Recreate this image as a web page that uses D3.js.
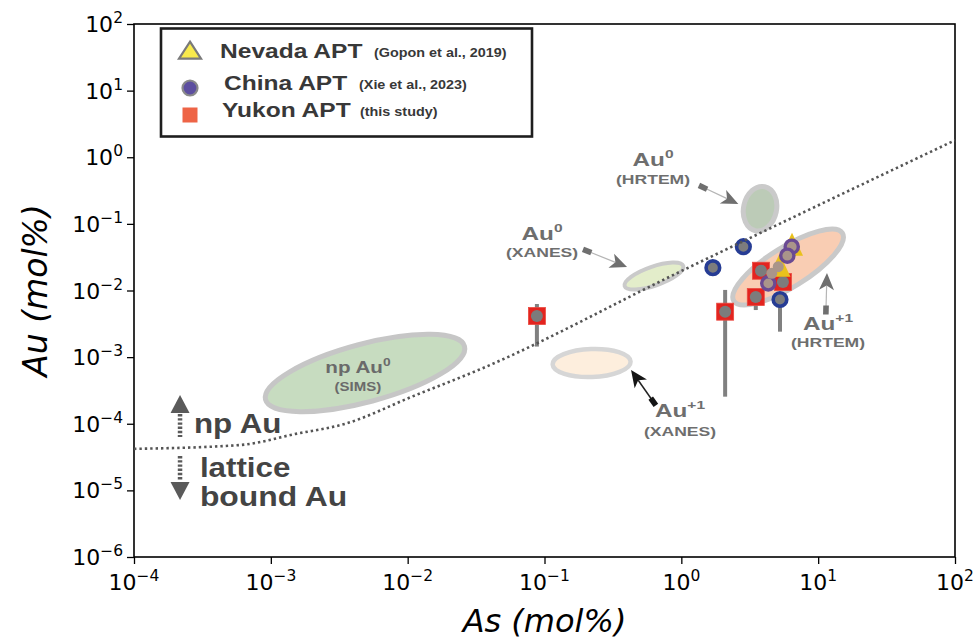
<!DOCTYPE html>
<html>
<head>
<meta charset="utf-8">
<script src="https://cdn.jsdelivr.net/npm/d3@7"></script>
<style>
  html, body { margin: 0; padding: 0; background: #fff; }
  svg { display: block; }
</style>
</head>
<body>
<svg id="chart" width="976" height="642"></svg>
<script>
// Au vs As (mol%) in pyrite: atom-probe analyses and Au speciation fields

// ---- Yukon APT (this study) ----
const yukonAs   = [0.088, 2.09, 3.82, 3.50, 5.53];
const yukonAu   = [0.00414, 0.00481, 0.0198, 0.00799, 0.0134];
const yukonAuLo = [0.00144, 0.000255, null, 0.00509, null];
const yukonAuHi = [0.00627, 0.0102, null, null, null];

// ---- China APT (Xie et al., 2023), blue-rimmed analyses ----
const chinaAs   = [1.70, 2.84, 5.26];
const chinaAu   = [0.0220, 0.0454, 0.00733];
const chinaAuLo = [null, null, 0.00241];

// ---- China APT, purple-rimmed analyses ----
const chinaPurpleAs = [6.41, 5.95, 4.32];
const chinaPurpleAu = [0.0454, 0.0333, 0.0128];

// ---- Nevada APT (Gopon et al., 2019) ----
const nevadaAs     = [6.44, 5.22];
const nevadaAu     = [0.0434, 0.0210];
const nevadaCoreAs = [5.11, 4.58];
const nevadaCoreAu = [0.0228, 0.0181];

// ---- Au solubility limit (np Au above, lattice-bound Au below) ----
const limitAs = [1e-4, 6e-4, 1.5e-3, 3.5e-3, 0.011, 0.034, 0.97, 100];
const limitAu = [4.2e-5, 4.8e-5, 7.0e-5, 1.0e-4, 2.6e-4, 6.6e-4, 0.019, 1.8];

// ---- Au speciation fields (centres) ----
const fieldNames = ["simsNp", "xanes0", "xanes1", "hrtem0", "hrtem1"];
const fieldAs    = [0.00488, 0.631, 0.221, 3.76, 6.03];
const fieldAu    = [0.000578, 0.0165, 0.000817, 0.169, 0.0225];

// ---- axis ticks ----
const xTickValues = [1e-4, 1e-3, 1e-2, 1e-1, 1e0, 1e1, 1e2];
const xTickExps   = ["\u22124", "\u22123", "\u22122", "\u22121", "0", "1", "2"];
const yTickValues = [1e-6, 1e-5, 1e-4, 1e-3, 1e-2, 1e-1, 1e0, 1e1, 1e2];
const yTickExps   = ["\u22126", "\u22125", "\u22124", "\u22123", "\u22122", "\u22121", "0", "1", "2"];

// ---- legend entries ----
const legendNames = ["Nevada APT", "China APT", "Yukon APT"];
const legendRefs  = ["(Gopon et al., 2019)", "(Xie et al., 2023)", "(this study)"];

// ---------------------------------------------------------------------
const svg = d3.select("#chart");
const plot = { left: 134, right: 955, top: 24, bottom: 557 };

const x = d3.scaleLog().domain([1e-4, 1e2]).range([plot.left, plot.right]);
const y = d3.scaleLog().domain([1e-6, 1e2]).range([plot.bottom, plot.top]);

const BOLD = "'Liberation Sans', Arial, Helvetica, sans-serif";
const MPL  = "'DejaVu Sans', sans-serif";

// bold, horizontally stretched label with optional superscript
function stretchLabel(parent, px, py, parts, opt) {
  const g = parent.append("g")
    .attr("transform", `translate(${px},${py}) scale(${opt.sx},1)`);
  const t = g.append("text")
    .attr("text-anchor", opt.anchor || "middle")
    .attr("font-family", BOLD)
    .attr("font-weight", "bold")
    .attr("font-size", opt.size)
    .attr("fill", opt.color);
  let raised = 0;
  parts.forEach(p => {
    const ts = t.append("tspan").text(p.t);
    if (p.sup) {
      const rise = opt.size * 0.42;
      ts.attr("font-size", opt.supSize || opt.size * 0.62).attr("dy", -rise - raised);
      raised = rise;
    } else if (raised) {
      ts.attr("dy", raised);
      raised = 0;
    }
  });
  return g;
}

// ---------------- speciation fields ----------------
const fieldStyle = {
  simsNp: { rx: 103, ry: 29,  rot: -15, fill: "#c7dcc0", stroke: "#c6c6c6", sw: 5 },
  xanes0: { rx: 31,  ry: 9.5, rot: -19, fill: "#e3edca", stroke: "#cacaca", sw: 4 },
  xanes1: { rx: 39,  ry: 14,  rot: -2,  fill: "#fdeedd", stroke: "#d6d6d6", sw: 4.5 },
  hrtem0: { rx: 16.5,ry: 22.5,rot: 12,  fill: "#bccbb7", stroke: "#cacaca", sw: 5 },
  hrtem1: { rx: 64,  ry: 20,  rot: -32, fill: "#f9cdb3", stroke: "#c9c9c9", sw: 5 }
};
const fields = fieldNames.map((n, i) => ({ name: n, as: fieldAs[i], au: fieldAu[i] }));

svg.append("g").selectAll("ellipse").data(fields).join("ellipse")
  .attr("transform", d => `translate(${x(d.as)},${y(d.au)}) rotate(${fieldStyle[d.name].rot})`)
  .attr("rx", d => fieldStyle[d.name].rx)
  .attr("ry", d => fieldStyle[d.name].ry)
  .attr("fill", d => fieldStyle[d.name].fill)
  .attr("stroke", d => fieldStyle[d.name].stroke)
  .attr("stroke-width", d => fieldStyle[d.name].sw);

// ---------------- axes ----------------
function minorValues(lo, hi) {
  const v = [];
  for (let k = lo; k < hi; k++) for (let m = 2; m <= 9; m++) v.push(m * Math.pow(10, k));
  return v;
}

const xAxisG = svg.append("g").attr("transform", `translate(0,${plot.bottom})`);
xAxisG.call(d3.axisBottom(x).tickValues(minorValues(-4, 2)).tickSize(4).tickSizeOuter(0).tickFormat(() => ""));
xAxisG.call(d3.axisBottom(x).tickValues(xTickValues).tickSize(7).tickSizeOuter(0).tickFormat(() => ""));
const yAxisG = svg.append("g").attr("transform", `translate(${plot.left},0)`);
yAxisG.call(d3.axisLeft(y).tickValues(minorValues(-6, 2)).tickSize(4).tickSizeOuter(0).tickFormat(() => ""));
yAxisG.call(d3.axisLeft(y).tickValues(yTickValues).tickSize(7).tickSizeOuter(0).tickFormat(() => ""));
svg.selectAll(".domain").remove();
svg.selectAll(".tick line").attr("stroke", "#000").attr("stroke-width", 1.3);

// tick labels as 10^n
xTickValues.forEach((v, i) => {
  const t = svg.append("text")
    .attr("x", x(v)).attr("y", plot.bottom + 33)
    .attr("text-anchor", "middle")
    .attr("font-family", MPL).attr("font-size", 22).attr("fill", "#000");
  t.append("tspan").text("10");
  t.append("tspan").attr("dy", -9).attr("font-size", 15.5).text(xTickExps[i]);
});
yTickValues.forEach((v, i) => {
  const t = svg.append("text")
    .attr("x", plot.left - 11).attr("y", y(v) + 8)
    .attr("text-anchor", "end")
    .attr("font-family", MPL).attr("font-size", 22).attr("fill", "#000");
  t.append("tspan").text("10");
  t.append("tspan").attr("dy", -9).attr("font-size", 15.5).text(yTickExps[i]);
});

// frame
svg.append("rect")
  .attr("x", plot.left).attr("y", plot.top)
  .attr("width", plot.right - plot.left).attr("height", plot.bottom - plot.top)
  .attr("fill", "none").attr("stroke", "#000").attr("stroke-width", 1.6);

// axis titles
svg.append("text")
  .attr("x", (plot.left + plot.right) / 2).attr("y", 632)
  .attr("text-anchor", "middle")
  .attr("font-family", MPL).attr("font-style", "italic").attr("font-size", 32)
  .text("As (mol%)");
svg.append("text")
  .attr("transform", `translate(47,${(plot.top + plot.bottom) / 2}) rotate(-90)`)
  .attr("text-anchor", "middle")
  .attr("font-family", MPL).attr("font-style", "italic").attr("font-size", 33)
  .text("Au (mol%)");

// ---------------- error bars ----------------
const errG = svg.append("g").attr("stroke", "#808080").attr("stroke-width", 4);
yukonAs.forEach((a, i) => {
  if (yukonAuLo[i] === null && yukonAuHi[i] === null) return;
  errG.append("line")
    .attr("x1", x(a)).attr("x2", x(a))
    .attr("y1", y(yukonAuHi[i] !== null ? yukonAuHi[i] : yukonAu[i]))
    .attr("y2", y(yukonAuLo[i] !== null ? yukonAuLo[i] : yukonAu[i]));
});
chinaAs.forEach((a, i) => {
  if (chinaAuLo[i] === null) return;
  errG.append("line")
    .attr("x1", x(a)).attr("x2", x(a))
    .attr("y1", y(chinaAu[i])).attr("y2", y(chinaAuLo[i]));
});

// ---------------- data markers ----------------
const markG = svg.append("g");
const triPath = (cx, cy, w, h) =>
  `M${cx},${cy - h * 2 / 3}L${cx + w / 2},${cy + h / 3}L${cx - w / 2},${cy + h / 3}Z`;

// Yukon squares with grey core
yukonAs.forEach((a, i) => {
  const cx = x(a), cy = y(yukonAu[i]);
  markG.append("rect").attr("x", cx - 8.5).attr("y", cy - 8.5).attr("width", 17).attr("height", 17)
    .attr("fill", "#e3241f").attr("stroke", "#ea4a40").attr("stroke-width", 0.8);
  markG.append("circle").attr("cx", cx).attr("cy", cy).attr("r", 6).attr("fill", "#7c7c7c");
});

// China, blue rims
chinaAs.forEach((a, i) => {
  markG.append("circle").attr("cx", x(a)).attr("cy", y(chinaAu[i])).attr("r", 6.8)
    .attr("fill", "#7d7d7d").attr("stroke", "#263c94").attr("stroke-width", 3.6);
});

// Nevada triangles
nevadaAs.forEach((a, i) => {
  markG.append("path").attr("d", triPath(x(a), y(nevadaAu[i]), 22, 23)).attr("fill", "#e9c11c");
});

// China, purple rims
chinaPurpleAs.forEach((a, i) => {
  markG.append("circle").attr("cx", x(a)).attr("cy", y(chinaPurpleAu[i])).attr("r", 6.6)
    .attr("fill", "#aa958a").attr("stroke", "#6a4a93").attr("stroke-width", 3.4);
});
// Nevada cores
nevadaCoreAs.forEach((a, i) => {
  markG.append("circle").attr("cx", x(a)).attr("cy", y(nevadaCoreAu[i])).attr("r", 5.5)
    .attr("fill", "#aa958a");
});

// ---------------- solubility limit ----------------
const limit = limitAs.map((a, i) => [a, limitAu[i]]);
svg.append("path")
  .datum(limit)
  .attr("d", d3.line().x(d => x(d[0])).y(d => y(d[1])).curve(d3.curveMonotoneX))
  .attr("fill", "none").attr("stroke", "#555").attr("stroke-width", 2.6)
  .attr("stroke-dasharray", "2.4 3");

// ---------------- annotation arrows ----------------
const annG = svg.append("g");
function arrow(tailAs, tailAu, tipAs, tipAu, color, lineColor, lw) {
  const x0 = x(tailAs), y0 = y(tailAu), x1 = x(tipAs), y1 = y(tipAu);
  const ang = Math.atan2(y1 - y0, x1 - x0);
  const deg = ang * 180 / Math.PI;
  const L = 17, Wd = 7.5, N = 4.5;
  annG.append("line")
    .attr("x1", x0).attr("y1", y0)
    .attr("x2", x1 - Math.cos(ang) * (L - N)).attr("y2", y1 - Math.sin(ang) * (L - N))
    .attr("stroke", lineColor).attr("stroke-width", lw);
  annG.append("rect")
    .attr("x", -4.5).attr("y", -2.8).attr("width", 9).attr("height", 5.6)
    .attr("transform", `translate(${x0},${y0}) rotate(${deg})`)
    .attr("fill", color);
  annG.append("path")
    .attr("d", `M0,0L${-L},${-Wd}L${-L + N},0L${-L},${Wd}Z`)
    .attr("transform", `translate(${x1},${y1}) rotate(${deg})`)
    .attr("fill", color);
}
arrow(1.44, 0.354, 2.61, 0.199, "#6f6f6f", "#b5b5b5", 1.2);      // Au0 HRTEM
arrow(0.205, 0.0392, 0.401, 0.0225, "#6f6f6f", "#b5b5b5", 1.2);  // Au0 XANES
arrow(0.624, 2.14e-4, 0.429, 6.41e-4, "#151515", "#222", 1.5);   // Au+1 XANES
arrow(11.4, 5.09e-3, 11.6, 0.0183, "#6f6f6f", "#b5b5b5", 1.2);   // Au+1 HRTEM

// ---------------- annotation labels ----------------
const GREY = "#6e6e6e";
function speciesLabel(as, au, sup, method, gap) {
  const px = x(as), py = y(au);
  stretchLabel(annG, px, py, [{ t: "Au" }, { t: sup, sup: true }],
    { size: 18, supSize: 11.5, sx: 1.35, color: GREY });
  stretchLabel(annG, px, py + gap, [{ t: method }],
    { size: 13, sx: 1.35, color: GREY });
}
speciesLabel(0.621, 0.746, "0", "(HRTEM)", 18.5);
speciesLabel(0.096, 0.0573, "0", "(XANES)", 17);
speciesLabel(0.978, 1.28e-4, "+1", "(XANES)", 19.5);
speciesLabel(11.8, 2.55e-3, "+1", "(HRTEM)", 17);

// np Au0 inside the SIMS field
stretchLabel(annG, x(4.33e-3), y(5.71e-4), [{ t: "np Au" }, { t: "0", sup: true }],
  { size: 16.5, supSize: 11, sx: 1.25, color: "#6a6a6a" });
stretchLabel(annG, x(4.33e-3), y(5.71e-4) + 17.5, [{ t: "(SIMS)" }],
  { size: 12, sx: 1.25, color: "#6a6a6a" });

// np Au / lattice bound Au with dotted arrows
const DARK = "#444";
stretchLabel(annG, x(2.74e-4), y(7.26e-5), [{ t: "np Au" }], { size: 27, sx: 1.16, anchor: "start", color: DARK });
stretchLabel(annG, x(3.03e-4), y(1.60e-5), [{ t: "lattice" }], { size: 27, sx: 1.16, anchor: "start", color: DARK });
stretchLabel(annG, x(3.03e-4), y(5.8e-6), [{ t: "bound Au" }], { size: 27, sx: 1.18, anchor: "start", color: DARK });

const arrowX = x(2.17e-4);
const upTip = y(2.7e-4), upEnd = y(6.3e-5);
const downStart = y(3.28e-5), downTip = y(7.18e-6);
const AR = "#5a5a5a";
annG.append("path").attr("d", `M${arrowX},${upTip}L${arrowX + 9.5},${upTip + 18}L${arrowX - 9.5},${upTip + 18}Z`).attr("fill", AR);
annG.append("line").attr("x1", arrowX).attr("x2", arrowX).attr("y1", upTip + 19).attr("y2", upEnd)
  .attr("stroke", AR).attr("stroke-width", 4.5).attr("stroke-dasharray", "2.4 1.8");
annG.append("line").attr("x1", arrowX).attr("x2", arrowX).attr("y1", downStart).attr("y2", downTip - 19)
  .attr("stroke", AR).attr("stroke-width", 4.5).attr("stroke-dasharray", "2.4 1.8");
annG.append("path").attr("d", `M${arrowX},${downTip}L${arrowX + 9.5},${downTip - 18}L${arrowX - 9.5},${downTip - 18}Z`).attr("fill", AR);

// ---------------- legend ----------------
const leg = svg.append("g");
leg.append("rect").attr("x", 161).attr("y", 28.5).attr("width", 371).attr("height", 108)
  .attr("fill", "#fff").attr("stroke", "#1e1e1e").attr("stroke-width", 2.6);
const rowY = [58, 90, 117];
const refX = [374, 359, 360];
const nameX = [220, 224, 222];
// markers
leg.append("path").attr("d", triPath(190, 53, 22, 17))
  .attr("fill", "#f8ea4c").attr("stroke", "#7a7a7a").attr("stroke-width", 2.2);
leg.append("circle").attr("cx", 190).attr("cy", 88).attr("r", 7.5)
  .attr("fill", "#5d4fa0").attr("stroke", "#8a8a8a").attr("stroke-width", 2.2);
leg.append("rect").attr("x", 182.5).attr("y", 107.5).attr("width", 15).attr("height", 15)
  .attr("fill", "#ee6446");
legendNames.forEach((n, i) => {
  stretchLabel(leg, nameX[i], rowY[i], [{ t: n }], { size: 21, sx: 1.17, anchor: "start", color: "#383838" });
  stretchLabel(leg, refX[i], rowY[i] - 1, [{ t: legendRefs[i] }], { size: 12.3, sx: 1.17, anchor: "start", color: "#383838" });
});
</script>
</body>
</html>
